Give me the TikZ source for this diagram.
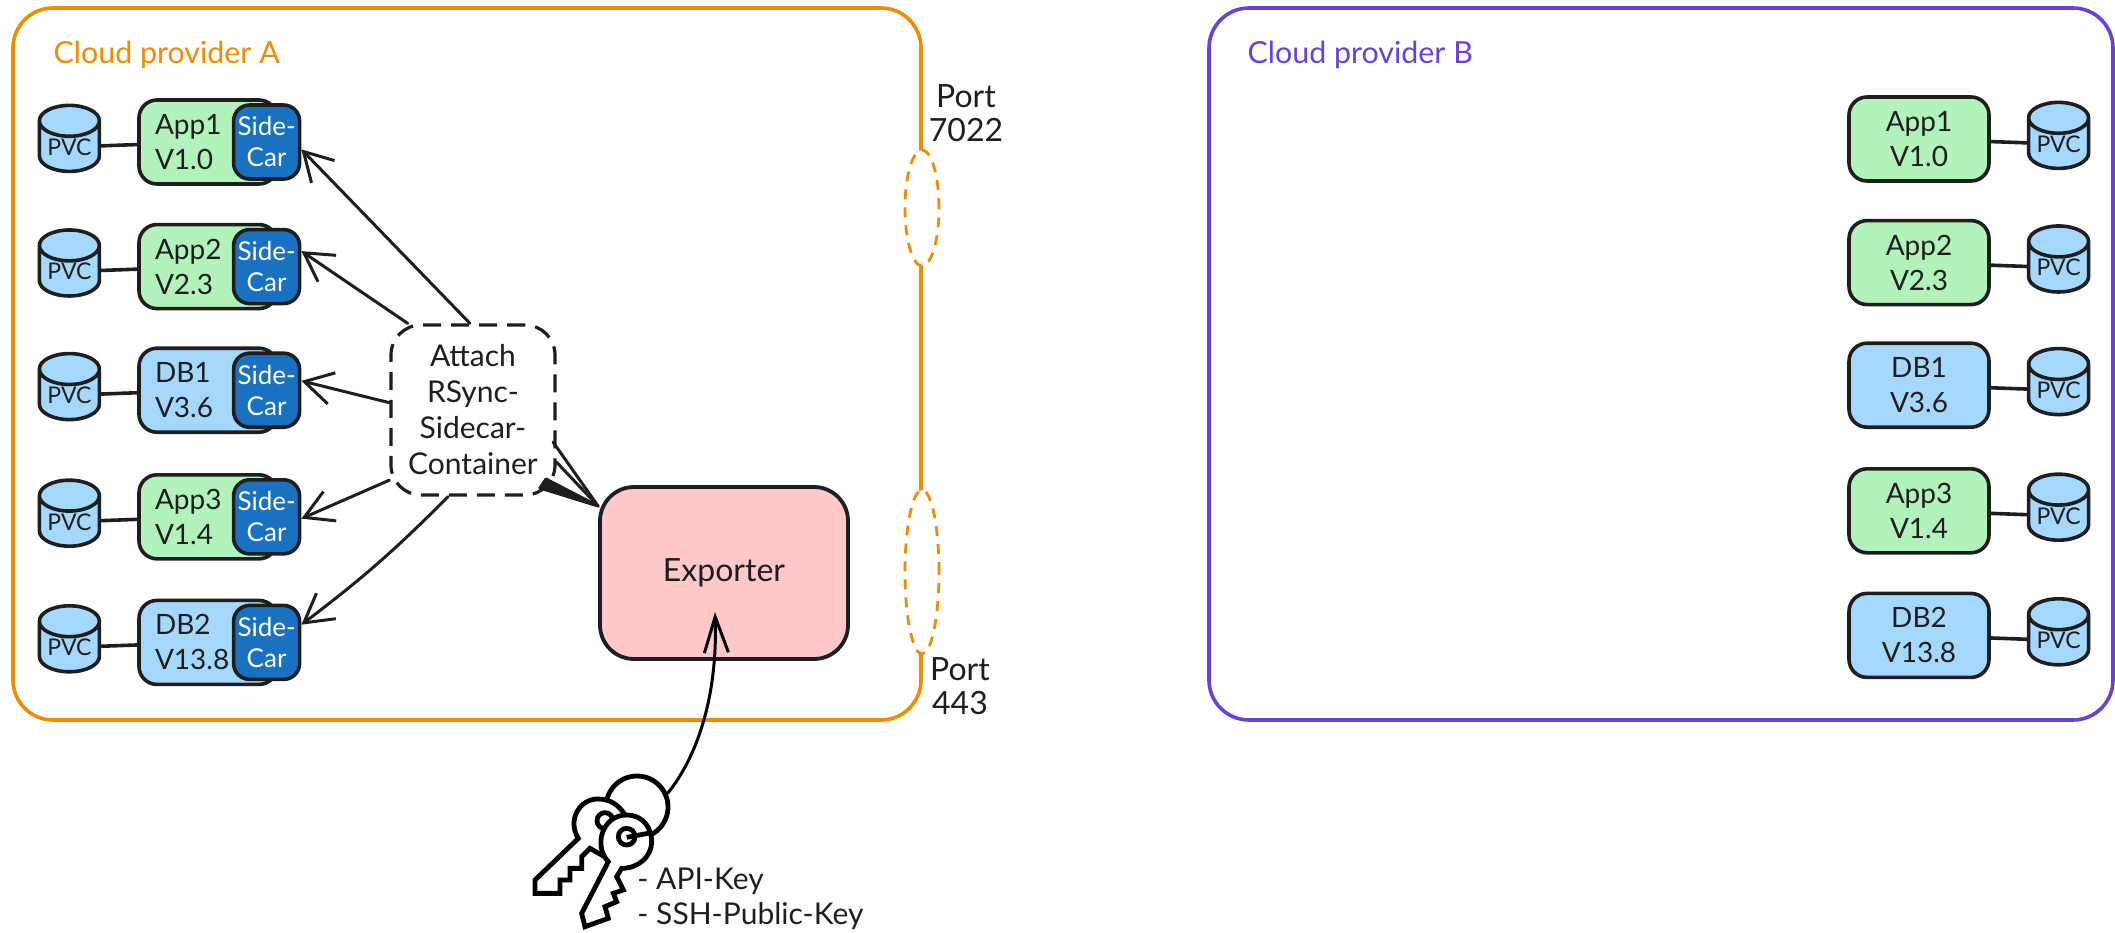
\documentclass[tikz,border=0pt]{standalone}
\usepackage{fontspec}
\setmainfont{Lato}
\usetikzlibrary{positioning,shapes.geometric,arrows.meta}

\definecolor{inkc}{HTML}{1E1E1E}
\definecolor{greenc}{HTML}{B2F2BB}
\definecolor{bluec}{HTML}{A5D8FF}
\definecolor{sidec}{HTML}{1971C2}
\definecolor{redc}{HTML}{FFC9C9}
\definecolor{orangec}{HTML}{F08C00}
\definecolor{purplec}{HTML}{6741D9}

\tikzset{
  cloud/.style={draw=#1, line width=1.8pt, rounded corners=20pt, minimum height=356pt, inner sep=0pt},
  cloudtext/.style={text=#1, font=\fontsize{15.2}{17}\selectfont, inner sep=0pt},
  app/.style={draw=inkc, fill=#1, line width=1.8pt, rounded corners=9pt, minimum height=42pt, font=\fontsize{14}{17.5}\selectfont, text=inkc},
  appl/.style={app=#1, align=left, inner xsep=8pt, text width=53pt},
  appr/.style={app=#1, align=center, inner sep=0pt, minimum width=70pt},
  sidecar/.style={draw=inkc, fill=sidec, line width=1.8pt, rounded corners=8pt, minimum width=33pt, minimum height=37pt, inner sep=0pt, align=center, text=white, font=\fontsize{13}{15.5}\selectfont},
  pvc/.style={draw=inkc, fill=bluec, line width=1.8pt, cylinder, shape border rotate=90, aspect=0.7, minimum width=30pt, minimum height=33pt, inner sep=0pt, yshift=-2.5pt, text=inkc, font=\fontsize{11.5}{13}\selectfont},
  port/.style={draw=orangec, fill=white, dash pattern=on 5pt off 4pt, line width=1.4pt, ellipse, minimum width=17pt, inner sep=0pt},
  porttext/.style={align=center, inner sep=0pt, text=inkc, font=\fontsize{16}{17}\selectfont},
  link/.style={draw=inkc, line width=1.8pt},
  flow/.style={draw=inkc, line width=1.5pt, line cap=round, -{Straight Barb[length=14pt,width=16pt]}},
  barb/.style={draw=inkc, line width=1.5pt, line cap=round, line join=round},
  keyline/.style={draw=black, fill=white, line width=2.4pt, line join=miter},
}

\begin{document}
\begin{tikzpicture}[x=0.5pt,y=-0.5pt]
  \useasboundingbox (0,0) rectangle (2115,932);

  \node[cloud=orangec, minimum width=454pt] (CloudA) at (467,364) {};
  \node[cloud=purplec, minimum width=452pt] (CloudB) at (1661,364) {};
  \node[cloudtext=orangec, below right=21.5pt and 21pt of CloudA.north west, yshift=4pt] (LabelA) {Cloud provider A};
  \node[cloudtext=purplec, below right=21.5pt and 20pt of CloudB.north west, yshift=4pt] (LabelB) {Cloud provider B};

  \node[port, minimum height=58pt] (PortTop) at (922,208) {};
  \node[port, minimum height=82pt] (PortLow) at (922,572) {};
  \node[porttext, above=3pt of PortTop, xshift=22pt] (PortTopText) {Port\\7022};
  \node[porttext, below=1pt of PortLow, xshift=19pt] (PortLowText) {Port\\443};

  \node[appl=greenc] (App1) at (208,142) {App1\\V1.0};
  \node[appl=greenc, below=18.5pt of App1] (App2) {App2\\V2.3};
  \node[appl=bluec, below=18pt of App2] (DB1) {DB1\\V3.6};
  \node[appl=greenc, below=19.5pt of DB1] (App3) {App3\\V1.4};
  \node[appl=bluec, below=19pt of App3] (DB2) {DB2\\V13.8};

  \node[sidecar, right=-23.5pt of App1] (Side1) {Side-\\Car};
  \node[sidecar, right=-23.5pt of App2] (Side2) {Side-\\Car};
  \node[sidecar, right=-23.5pt of DB1] (Side3) {Side-\\Car};
  \node[sidecar, right=-23.5pt of App3] (Side4) {Side-\\Car};
  \node[sidecar, right=-23.5pt of DB2] (Side5) {Side-\\Car};

  \node[pvc, left=18pt of App1] (Pvc1) {PVC};
  \node[pvc, left=18pt of App2] (Pvc2) {PVC};
  \node[pvc, left=18pt of DB1] (Pvc3) {PVC};
  \node[pvc, left=18pt of App3] (Pvc4) {PVC};
  \node[pvc, left=18pt of DB2] (Pvc5) {PVC};

  \draw[link] (Pvc1) -- (App1);
  \draw[link] (Pvc2) -- (App2);
  \draw[link] (Pvc3) -- (DB1);
  \draw[link] (Pvc4) -- (App3);
  \draw[link] (Pvc5) -- (DB2);

  \node[appr=greenc] (AppB1) at (1919,139) {App1\\V1.0};
  \node[appr=greenc, below=18pt of AppB1] (AppB2) {App2\\V2.3};
  \node[appr=bluec, below=17.5pt of AppB2] (DBB1) {DB1\\V3.6};
  \node[appr=greenc, below=19pt of DBB1] (AppB3) {App3\\V1.4};
  \node[appr=bluec, below=18.5pt of AppB3] (DBB2) {DB2\\V13.8};

  \node[pvc, right=18pt of AppB1] (PvcB1) {PVC};
  \node[pvc, right=18pt of AppB2] (PvcB2) {PVC};
  \node[pvc, right=18pt of DBB1] (PvcB3) {PVC};
  \node[pvc, right=18pt of AppB3] (PvcB4) {PVC};
  \node[pvc, right=18pt of DBB2] (PvcB5) {PVC};

  \draw[link] (AppB1) -- (PvcB1);
  \draw[link] (AppB2) -- (PvcB2);
  \draw[link] (DBB1) -- (PvcB3);
  \draw[link] (AppB3) -- (PvcB4);
  \draw[link] (DBB2) -- (PvcB5);

  \node[draw=inkc, fill=white, dash pattern=on 9pt off 5pt, line width=1.6pt, rounded corners=15pt, minimum width=82pt, minimum height=85pt, inner sep=0pt, align=center, text=inkc, font=\fontsize{15}{18}\selectfont] (Attach) at (473,410) {Attach\\RSync-\\Sidecar-\\Container};
  \node[draw=inkc, fill=redc, line width=1.9pt, rounded corners=17pt, minimum width=124pt, minimum height=86pt, text=inkc, font=\fontsize{16}{18}\selectfont] (Exporter) at (724,573) {Exporter};

  \draw[flow] (Attach.92) -- (Side1.-12);
  \draw[flow] (Attach.127) -- (Side2.24);
  \draw[flow] (Attach.175) -- (Side3.15);
  \draw[flow] (Attach.220) -- (Side4.-3);
  \draw[flow] (Attach.254) to[bend left=4] (Side5.27);

  \coordinate (BarbA) at (553,442);
  \coordinate (BarbB) at (540,488);
  \coordinate (BarbC) at (546,479);
  \draw[barb] (Attach.-32) -- (Exporter.152);
  \draw[barb] (BarbA) -- (Exporter.152);
  \draw[barb, fill=inkc] (BarbB) -- (Exporter.152) -- (BarbC) -- cycle;

  \node[draw=black, line width=2.4pt, circle, minimum size=31pt, inner sep=0pt] (Ring) at (637,807) {};
  \begin{scope}[shift={(480,700)},x=0.16667pt,y=-0.16667pt]
    \draw[keyline] (295,415) .. controls (260,360) and (300,295) .. (355,297) .. controls (395,297) and (420,320) .. (435,345) -- (365,465) -- (330,445) -- (305,470) -- (305,505) -- (270,505) -- (270,540) -- (240,540) -- (240,580) -- (165,580) -- (165,540) -- cycle;
    \draw[keyline] (375,362) circle (24);
    \draw[keyline] (385,485) .. controls (340,440) and (365,345) .. (440,345) .. controls (490,345) and (515,385) .. (515,425) .. controls (515,470) and (475,505) .. (425,505) -- (410,530) -- (430,570) -- (400,580) -- (410,605) -- (375,620) -- (385,655) -- (315,680) -- (305,640) -- cycle;
    \draw[keyline] (440,410) circle (25);
    \draw[draw=black, line width=2.4pt] (440,412) -- (515,398);
  \end{scope}
  \coordinate (ExpTip) at (715,612);
  \draw[draw=black, line width=1.5pt, line cap=round, -{Straight Barb[length=18pt,width=12pt]}] (Ring.24) .. controls (695,760) and (718,700) .. (ExpTip);
  \node[below right=13.5pt and 0pt of Ring.south, align=left, inner sep=0pt, text=inkc, font=\fontsize{15}{17.5}\selectfont] (KeyText) {- API-Key\\- SSH-Public-Key};
\end{tikzpicture}
\end{document}
